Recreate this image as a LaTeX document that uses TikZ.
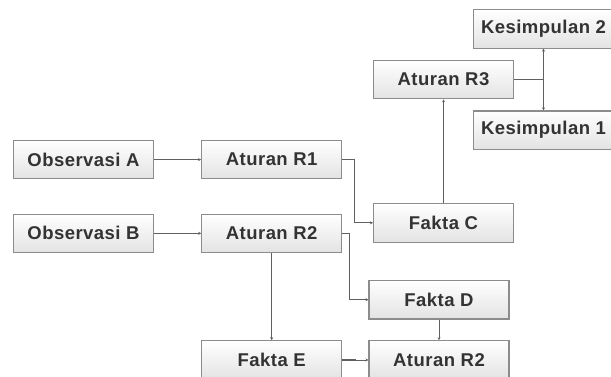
\documentclass[tikz,border=0pt]{standalone}
\usepackage{fontspec}
\setmainfont{Liberation Sans}[LetterSpace=2.5]
\usetikzlibrary{arrows.meta}
\definecolor{boxline}{HTML}{8C8C8C}
\definecolor{linkline}{HTML}{606060}
\definecolor{txt}{HTML}{333333}
\begin{document}
\begin{tikzpicture}[x=1pt,y=-1pt,
  box/.style={draw=boxline, line width=1.1pt, top color=white, bottom color=black!11,
    minimum width=140pt, minimum height=38.5pt, inner sep=0pt, text=txt,
    font=\fontsize{18.5}{20}\selectfont\bfseries},
  link/.style={draw=linkline, line width=0.9pt},
  arr/.style={link, -{Stealth[length=3pt,width=3pt]}},
  thick link/.style={draw=linkline, line width=1.6pt}]
\useasboundingbox (0,0) rectangle (611,376);
\fill[white] (0,0) rectangle (611,376);

\node[box] (obsA) at (83.5,159.6) {Observasi A};
\node[box] (r1)   at (271.7,159.6) {Aturan R1};
\node[box] (obsB) at (83.5,233.3) {Observasi B};
\node[box] (r2)   at (271.7,233.3) {Aturan R2};
\node[box] (fC)   at (443.5,222.8) {Fakta C};
\node[box] (r3)   at (443.5,79.5) {Aturan R3};
\node[box] (k2)   at (543.5,28.8) {Kesimpulan 2};
\node[box] (k1)   at (543.5,130.2) {Kesimpulan 1};
\node[box] (fD)   at (439,299.7) {Fakta D};
\node[box] (fE)   at (271.7,360) {Fakta E};
\node[box] (r2b)  at (439,360) {Aturan R2};

\draw[arr] (obsA.east) -- (r1.west);
\draw[arr] (obsB.east) -- (r2.west);
\draw[arr] (r1.east) -- ++(12.5,0) |- (fC.west);
\draw[arr] (r2.east) -- ++(7.5,0) |- (fD.west);
\draw[arr] (r2.south) -- (fE.north);
\draw[arr] (fD.south) -- (r2b.north);
\draw[thick link] (fE.east) -- ++(14,0);
\draw[arr] (fE.east) -- (r2b.west);
\draw[arr] (fC.north) -- (r3.south);
\coordinate (j) at (543.5,79.5);
\draw[thick link] (r3.east) -- (j);
\draw[arr] (j) -- (k2.south);
\draw[arr] (j) -- (k1.north);
\end{tikzpicture}
\end{document}
